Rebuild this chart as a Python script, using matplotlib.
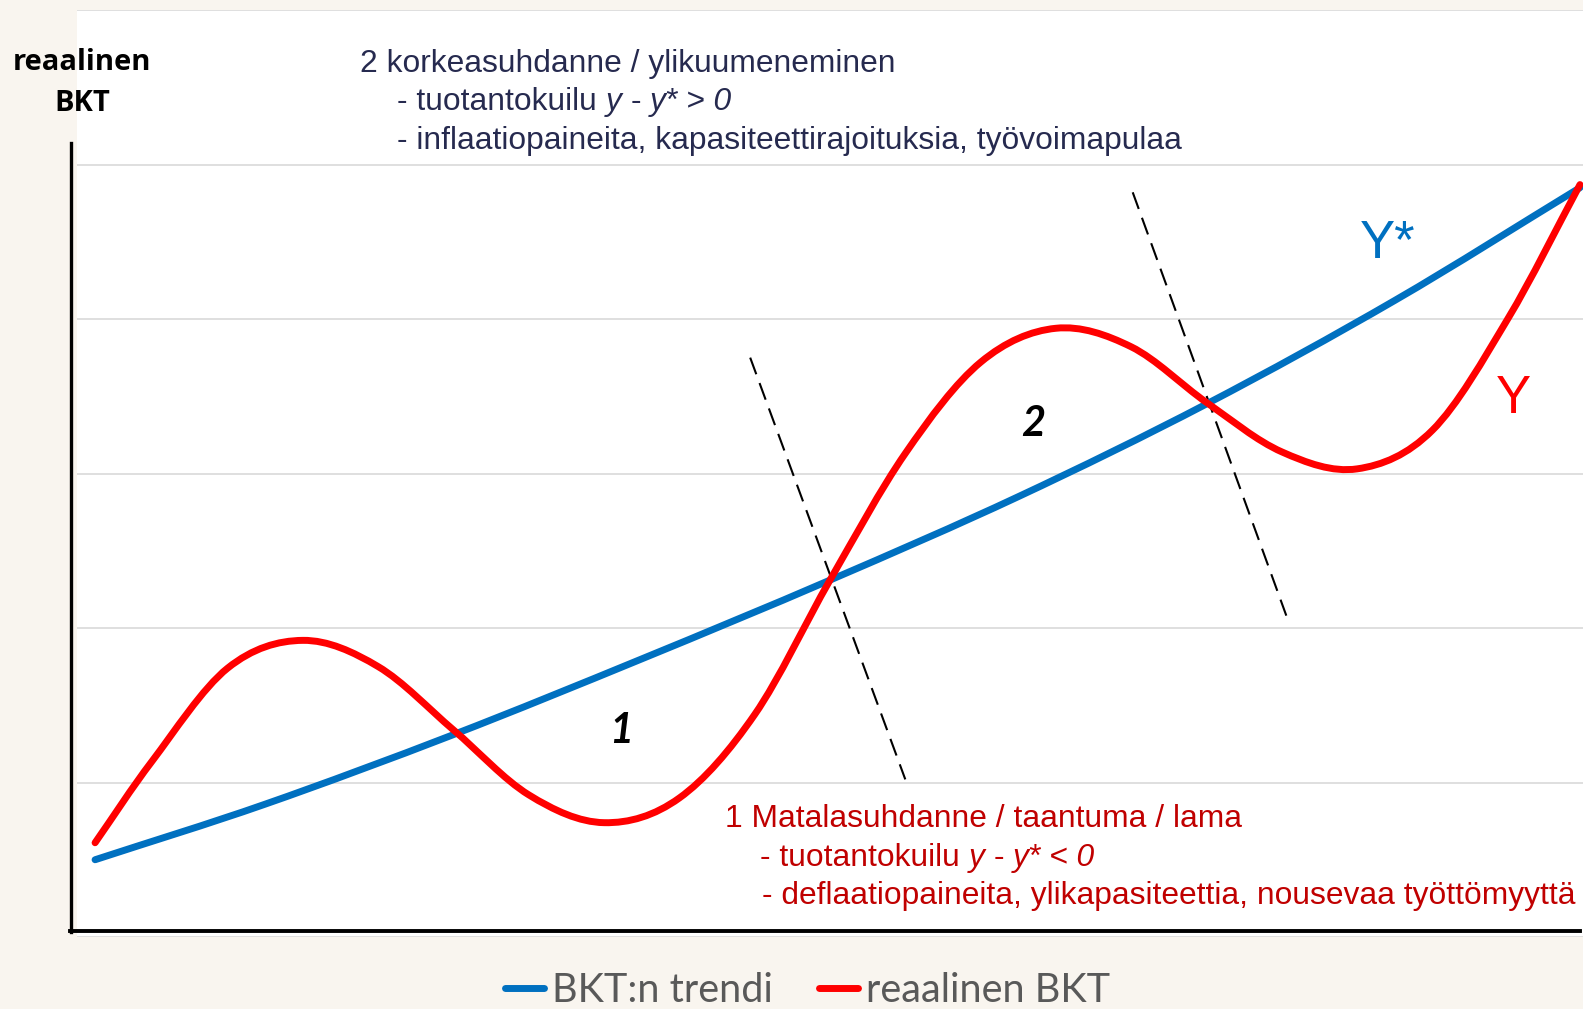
import numpy as np
import matplotlib.pyplot as plt
from matplotlib.path import Path
from matplotlib.patches import PathPatch
from matplotlib.lines import Line2D

# --- Data (x: time 0..100, y: output level 0..6) ---
trend_x = [1.2, 12.5, 25.0, 37.5, 50.0, 62.5, 75.0, 87.5, 99.8]
trend_y = [0.50, 0.86, 1.31, 1.80, 2.31, 2.85, 3.45, 4.12, 4.85]

real_x = [1.2, 5, 10, 15, 20, 25, 30, 35, 40, 45, 50, 55, 60, 65, 70, 75, 80, 85, 90, 95, 99.8]
real_y = [0.61, 1.14, 1.74, 1.92, 1.75, 1.34, 0.92, 0.74, 0.90, 1.44, 2.31, 3.13, 3.72,
          3.94, 3.82, 3.46, 3.14, 3.03, 3.28, 4.00, 4.87]

# dashed phase separators (start, end)
sep1 = [(44.7, 3.75), (55.0, 1.02)]
sep2 = [(70.1, 4.82), (80.3, 2.08)]

legend_labels = ["BKT:n trendi", "reaalinen BKT"]

BLUE = '#0070c0'
RED = '#ff0000'
NAVY = '#262a4f'
DARKRED = '#c00000'
CREAM = '#f9f5ef'

W, H = 1583, 1009


def fx(px):
    return px / W


def fy(py):
    return 1 - py / H


def smooth_path(xs, ys):
    # smoothed line through the points (catmull-rom as cubic bezier)
    pts = np.column_stack([xs, ys]).astype(float)
    ext = np.vstack([2 * pts[0] - pts[1], pts, 2 * pts[-1] - pts[-2]])
    verts = [pts[0]]
    codes = [Path.MOVETO]
    for i in range(1, len(ext) - 2):
        p0, p1, p2, p3 = ext[i - 1], ext[i], ext[i + 1], ext[i + 2]
        c1 = p1 + (p2 - p0) / 6
        c2 = p2 - (p3 - p1) / 6
        verts += [c1, c2, p2]
        codes += [Path.CURVE4] * 3
    return Path(verts, codes)


fig = plt.figure(figsize=(W / 100, H / 100), dpi=100, facecolor=CREAM)
ax = fig.add_axes([fx(77), fy(937), fx(W - 77), (937 - 10) / H])
ax.set_facecolor('white')
ax.set_xlim(0, 100)
ax.set_ylim(0, 6)
ax.set_yticks(range(7))
ax.set_xticks([])
ax.grid(axis='y', color='#d9d9d9', lw=1.2)
ax.tick_params(left=False, labelleft=False)
for s in ax.spines.values():
    s.set_visible(False)

for xs, ys, c in [(trend_x, trend_y, BLUE), (real_x, real_y, RED)]:
    ax.add_patch(PathPatch(smooth_path(xs, ys), fill=False, edgecolor=c, lw=5,
                           capstyle='round', joinstyle='round', zorder=3))

for seg in (sep1, sep2):
    ax.plot([seg[0][0], seg[1][0]], [seg[0][1], seg[1][1]], color='black', lw=1.5,
            dashes=(8.5, 4.5), zorder=2)

# axis lines drawn as shapes
fig.add_artist(Line2D([fx(71), fx(71)], [fy(143), fy(932)], color='black', lw=2.4))
fig.add_artist(Line2D([fx(70), fx(1580)], [fy(931), fy(931)], color='black', lw=2.8))

# y label
fig.text(fx(82), fy(62), "reaalinen", ha='center', va='center', fontsize=21,
         fontweight='bold', family='Open Sans', color='black')
fig.text(fx(82), fy(104), "BKT", ha='center', va='center', fontsize=21,
         fontweight='bold', family='Open Sans', color='black')

FS = 22.9
SP = 0.278 * FS


def rich_line(px, py, parts, color):
    t = fig.text(fx(px), fy(py), parts[0][0], style=parts[0][1], fontsize=FS,
                 family='Liberation Sans', color=color, va='baseline', ha='left')
    for s, st in parts[1:]:
        t = ax.annotate(s, xy=(1, 0), xycoords=t, xytext=(SP, 0),
                        textcoords='offset points', va='bottom', ha='left',
                        fontsize=FS, style=st, family='Liberation Sans', color=color)


rich_line(360, 72, [("2 korkeasuhdanne / ylikuumeneminen", 'normal')], NAVY)
rich_line(397, 110, [("- tuotantokuilu", 'normal'), ("y", 'italic'), ("-", 'normal'),
                     ("y* > 0", 'italic')], NAVY)
rich_line(397, 149, [("- inflaatiopaineita, kapasiteettirajoituksia, työvoimapulaa", 'normal')], NAVY)

rich_line(725, 827, [("1 Matalasuhdanne / taantuma / lama", 'normal')], DARKRED)
rich_line(760, 866, [("- tuotantokuilu", 'normal'), ("y", 'italic'), ("-", 'normal'),
                     ("y* < 0", 'italic')], DARKRED)
rich_line(762, 904, [("- deflaatiopaineita, ylikapasiteettia, nousevaa työttömyyttä", 'normal')], DARKRED)

# phase numbers
fig.text(fx(621), fy(731), "1", ha='center', va='center', fontsize=30, fontweight='bold',
         style='italic', family='Lato', color='black')
fig.text(fx(1033), fy(424), "2", ha='center', va='center', fontsize=30, fontweight='bold',
         style='italic', family='Lato', color='black')

# curve labels
fig.text(fx(1360), fy(258), "Y*", ha='left', va='baseline', fontsize=38,
         family='Liberation Sans', color=BLUE)
fig.text(fx(1496), fy(413), "Y", ha='left', va='baseline', fontsize=38,
         family='Liberation Sans', color=RED)

handles = [Line2D([], [], color=BLUE, lw=5, solid_capstyle='round'),
           Line2D([], [], color=RED, lw=5, solid_capstyle='round')]
fig.legend(handles, legend_labels, loc='center', bbox_to_anchor=(0.51, fy(990)),
           ncol=2, frameon=False, handlelength=1.0, handletextpad=0.19,
           columnspacing=1.17, labelcolor='#595959', prop={'family': 'Lato', 'size': 28.5})

fig.savefig('out.png', dpi=100, facecolor=CREAM)
